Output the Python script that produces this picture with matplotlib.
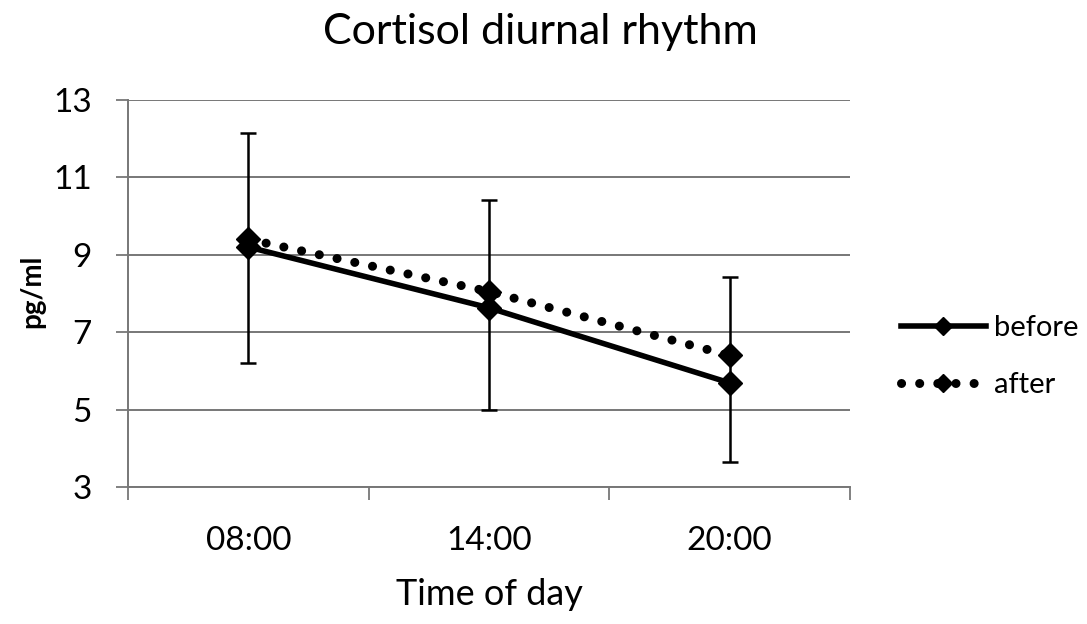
import matplotlib
matplotlib.use("Agg")
import matplotlib.pyplot as plt
import numpy as np

times = ["08:00", "14:00", "20:00"]
before = [9.2, 7.63, 5.69]
after = [9.4, 8.05, 6.4]
err_low = [6.2, 5.0, 3.65]
err_high = [12.15, 10.42, 8.42]
yticks = [3, 5, 7, 9, 11, 13]

plt.rcParams['font.family'] = ['Lato', 'DejaVu Sans']

fig = plt.figure(figsize=(10.87, 6.24), dpi=100)
ax = fig.add_axes([128/1087, 1-487/624, (850-128)/1087, (487-100)/624])

x = np.arange(len(times))
yerr = [np.array(before) - np.array(err_low), np.array(err_high) - np.array(before)]
ax.errorbar(x, before, yerr=yerr, fmt='none', ecolor='black', elinewidth=1.8,
            capsize=6, capthick=1.8, zorder=3)
ax.plot(x, after, color='black', linestyle=(0, (0.01, 2.0)), linewidth=6.5,
        dash_capstyle='round', marker='D', markersize=12, label='after', zorder=4)
ax.plot(x, before, color='black', linestyle='-', linewidth=4,
        marker='D', markersize=12, label='before', zorder=5)

ax.set_xlim(-0.5, 2.5)
ax.set_ylim(3, 13)
ax.set_yticks(yticks)
ax.set_yticklabels([str(v) for v in yticks], fontsize=24)
ax.set_xticks(x)
ax.set_xticklabels(times, fontsize=24)
ax.set_xticks([-0.5, 0.5, 1.5, 2.5], minor=True)
ax.tick_params(axis='x', which='major', length=0, pad=28)
ax.tick_params(axis='x', which='minor', length=9, width=1.3, color='#777777', direction='out')
ax.tick_params(axis='y', length=9, width=1.3, color='#777777', direction='out', pad=17)
ax.yaxis.grid(True, color='#777777', linewidth=1.4)
ax.set_axisbelow(True)
for s in ['top', 'right']:
    ax.spines[s].set_visible(False)
for s in ['left', 'bottom']:
    ax.spines[s].set_color('#777777')
    ax.spines[s].set_linewidth(1.4)

fig.text(540/1087, 1-32/624, "Cortisol diurnal rhythm", fontsize=31,
         ha='center', va='center')
ax.set_xlabel("Time of day", fontsize=26, labelpad=16)
fig.text(32/1087, 1-291/624, "pg/ml", fontsize=20, fontweight='bold',
         rotation=90, ha='center', va='center')

handles, labels = ax.get_legend_handles_labels()
order = [1, 0]
ax.legend([handles[i] for i in order], [labels[i] for i in order],
          loc='center left', bbox_to_anchor=(901/1087, 1-356.5/624),
          bbox_transform=fig.transFigure, frameon=False, borderpad=0,
          borderaxespad=0, markerscale=0.75,
          fontsize=21, handlelength=2.9, handletextpad=0.3, labelspacing=1.05)

fig.savefig("out.png", dpi=100)
